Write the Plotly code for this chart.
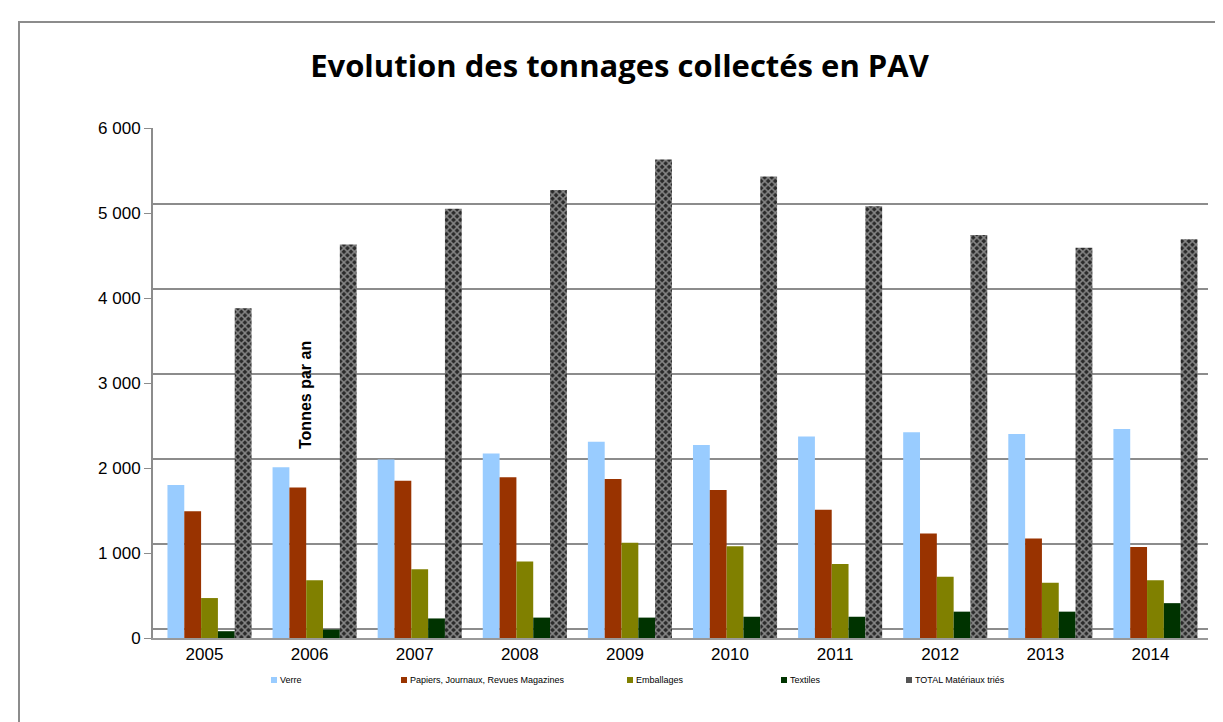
import plotly.graph_objects as go

years = ["2005", "2006", "2007", "2008", "2009", "2010", "2011", "2012", "2013", "2014"]
verre = [1800, 2010, 2100, 2170, 2310, 2270, 2370, 2420, 2400, 2460]
papiers = [1490, 1770, 1850, 1890, 1870, 1740, 1510, 1230, 1170, 1070]
emballages = [470, 680, 810, 900, 1120, 1080, 870, 720, 650, 680]
textiles = [80, 100, 230, 240, 240, 250, 250, 310, 310, 410]
total = [3880, 4630, 5050, 5270, 5630, 5430, 5080, 4740, 4590, 4690]
y_ticks = [0, 1000, 2000, 3000, 4000, 5000, 6000]
y_tick_labels = ["0", "1 000", "2 000", "3 000", "4 000", "5 000", "6 000"]

names = ["Verre", "Papiers, Journaux, Revues Magazines", "Emballages", "Textiles",
         "TOTAL Matériaux triés"]
colors = ["#99CCFF", "#993300", "#808000", "#003300", "#2a2a2a"]
values = [verre, papiers, emballages, textiles, total]

W, H = 1223, 722
L, R, T, B = 145, 23, 120, 92
pw, ph = W - L - R, H - T - B

def px_x(px):
    return (px - L) / pw

def px_y(py):
    return (H - B - py) / ph

fig = go.Figure()
for i, (name, vals, col) in enumerate(zip(names, values, colors)):
    marker = dict(color=col, line=dict(width=0))
    if i == 4:
        marker["pattern"] = dict(shape="x", fgcolor="#e6e6e6", size=5, solidity=0.5)
    fig.add_trace(go.Bar(x=years, y=vals, name=name, marker=marker, showlegend=False))

# back-wall gridlines (3D offset of ~9px upward)
off = 9 * 6000 / ph

legend_x = [263, 393, 619, 773, 898]
legend_y = 672
shapes = [dict(type="rect", xref="paper", yref="paper",
               x0=px_x(11), x1=px_x(1216), y0=px_y(740), y1=px_y(14),
               line=dict(color="#8c8c8c", width=2))]
annotations = [dict(text="<b>Tonnes par an</b>", textangle=-90, showarrow=False,
                    x=px_x(297), y=px_y(387), xref="paper", yref="paper",
                    xanchor="center", yanchor="middle",
                    font=dict(size=16, family="Liberation Sans"))]
for i, (name, col) in enumerate(zip(names, colors)):
    lx = legend_x[i]
    shapes.append(dict(type="rect", xref="paper", yref="paper",
                       x0=px_x(lx), x1=px_x(lx + 6), y0=px_y(legend_y + 3), y1=px_y(legend_y - 3),
                       fillcolor=col if i < 4 else "#555555", line=dict(width=0)))
    annotations.append(dict(text=name, showarrow=False, xref="paper", yref="paper",
                            x=px_x(lx + 7), y=px_y(legend_y), xanchor="left", yanchor="middle",
                            font=dict(size=9, family="Liberation Sans")))

fig.update_layout(
    width=W, height=H,
    margin=dict(l=L, r=R, t=T, b=B),
    paper_bgcolor="white", plot_bgcolor="white",
    barmode="group", bargap=0.2, bargroupgap=0.0,
    font=dict(family="Liberation Sans", color="black"),
    title=dict(text="<b>Evolution des tonnages collectés en PAV</b>",
               x=0.5, xanchor="center", y=1 - 58 / H, yanchor="middle",
               font=dict(family="Open Sans", size=31, color="black")),
    xaxis=dict(showgrid=False, showline=True, linecolor="#999999", linewidth=2,
               ticks="", tickfont=dict(size=17), ticklabelshift=-5),
    yaxis=dict(range=[0, 6000], tickvals=y_ticks, ticktext=y_tick_labels,
               showgrid=False, showline=True, linecolor="#8c8c8c", linewidth=2,
               ticks="outside", ticklen=7, tickcolor="#8c8c8c",
               tickfont=dict(size=17), zeroline=False),
    yaxis2=dict(overlaying="y", range=[-off, 6000 - off], tickvals=y_ticks,
                showticklabels=False, showgrid=True, gridcolor="#8c8c8c", gridwidth=2,
                zeroline=False, showline=False, ticks=""),
    showlegend=False,
    annotations=annotations,
    shapes=shapes,
)
fig.add_trace(go.Scatter(x=[years[0]], y=[None], yaxis="y2", showlegend=False, hoverinfo="skip"))
fig.update_layout(yaxis2=dict(layer="below traces"))

fig.write_html("out.html")
